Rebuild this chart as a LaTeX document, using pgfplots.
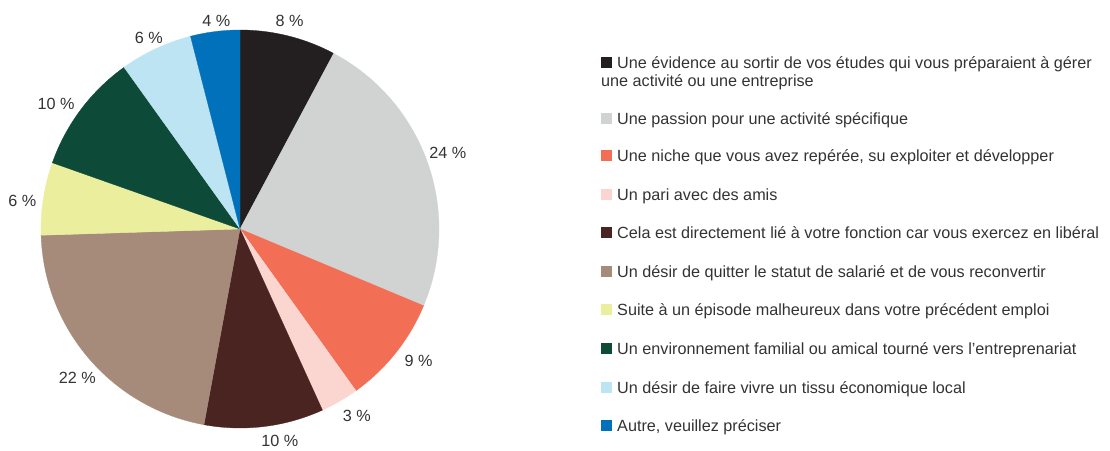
\documentclass[border=0pt]{standalone}
\usepackage{pgfplots}
\pgfplotsset{compat=1.18}
\usepackage{pgfplotstable}
\usepackage{fontspec}
\setmainfont{Liberation Sans}

\definecolor{c1}{HTML}{231F20}
\definecolor{c2}{HTML}{D0D3D2}
\definecolor{c3}{HTML}{F26E55}
\definecolor{c4}{HTML}{FBD6D0}
\definecolor{c5}{HTML}{4A2421}
\definecolor{c6}{HTML}{A68B7A}
\definecolor{c7}{HTML}{EAEE9D}
\definecolor{c8}{HTML}{0D4B38}
\definecolor{c9}{HTML}{BDE4F2}
\definecolor{c10}{HTML}{0071BA}
\definecolor{txt}{HTML}{333333}

% value = share of the pie (%), label = printed percentage,
% lr = label distance from the centre, ao = small label angle offset (deg)
\pgfplotstableread[col sep=comma]{
value,label,color,lr,ao
7.8,8,c1,213.5,0.6
23.5,24,c2,221.5,0.6
8.8,9,c3,222,2.1
3.1,3,c4,220,2
9.7,10,c5,215.5,3.6
21.6,22,c6,220.5,1.8
5.9,6,c7,219.5,1.5
9.7,10,c8,222.5,2.7
5.9,6,c9,211.5,0.5
4.0,4,c10,209.5,-0.7
}\piedata

\newcommand\legfont{\fontsize{16.2}{19}\selectfont}
\newcommand\legitem[3]{%
  \fill[#2] (601pt,-#1pt+5.5pt) rectangle (612pt,-#1pt-5.5pt);
  \node[anchor=base west, inner sep=0pt, text=txt, font=\legfont] at (617pt,-#1pt-5.8pt) {#3};}

\begin{document}
\begin{tikzpicture}
\begin{axis}[hide axis, x=1pt, y=1pt, xmin=-200, xmax=200, ymin=-200, ymax=200,
  anchor=origin, at={(240pt,-229pt)}, clip=false]
\def\cum{0}
\pgfplotsforeachungrouped \i in {0,...,9}{%
  \pgfplotstablegetelem{\i}{value}\of\piedata \let\v\pgfplotsretval
  \pgfplotstablegetelem{\i}{label}\of\piedata \let\lab\pgfplotsretval
  \pgfplotstablegetelem{\i}{color}\of\piedata \let\col\pgfplotsretval
  \pgfplotstablegetelem{\i}{lr}\of\piedata \let\lr\pgfplotsretval
  \pgfplotstablegetelem{\i}{ao}\of\piedata \let\ao\pgfplotsretval
  \pgfmathsetmacro\aA{90-3.6*\cum}%
  \pgfmathsetmacro\aB{90-3.6*(\cum+\v)}%
  \pgfmathsetmacro\aM{(\aA+\aB)/2+\ao}%
  \pgfmathsetmacro\xA{199*cos(\aA)}%
  \pgfmathsetmacro\yA{199*sin(\aA)}%
  \pgfmathsetmacro\xL{\lr*cos(\aM)}%
  \pgfmathsetmacro\yL{\lr*sin(\aM)}%
  \edef\doit{%
    \noexpand\filldraw[fill=\col, draw=\col, line width=0.3pt] (axis cs:0,0) -- (axis cs:\xA,\yA) arc[start angle=\aA, end angle=\aB, radius=199pt] -- cycle;
    \noexpand\node[text=txt, inner sep=0pt, font=\noexpand\legfont] at (axis cs:\xL,\yL) {\lab{} \noexpand\%};}%
  \doit
  \pgfmathsetmacro\cum{\cum+\v}%
}
\end{axis}
\legitem{62.5}{c1}{Une évidence au sortir de vos études qui vous préparaient à gérer}
\node[anchor=base west, inner sep=0pt, text=txt, font=\legfont] at (601pt,-86.3pt) {une activité ou une entreprise};
\legitem{118.5}{c2}{Une passion pour une activité spécifique}
\legitem{155.5}{c3}{Une niche que vous avez repérée, su exploiter et développer}
\legitem{194.5}{c4}{Un pari avec des amis}
\legitem{232.5}{c5}{Cela est directement lié à votre fonction car vous exercez en libéral}
\legitem{271.5}{c6}{Un désir de quitter le statut de salarié et de vous reconvertir}
\legitem{309.5}{c7}{Suite à un épisode malheureux dans votre précédent emploi}
\legitem{348.5}{c8}{Un environnement familial ou amical tourné vers l’entreprenariat}
\legitem{387.5}{c9}{Un désir de faire vivre un tissu économique local}
\legitem{425.5}{c10}{Autre, veuillez préciser}
\pgfresetboundingbox
\useasboundingbox (0pt,0pt) rectangle (1110pt,-450pt);
\end{tikzpicture}
\end{document}
